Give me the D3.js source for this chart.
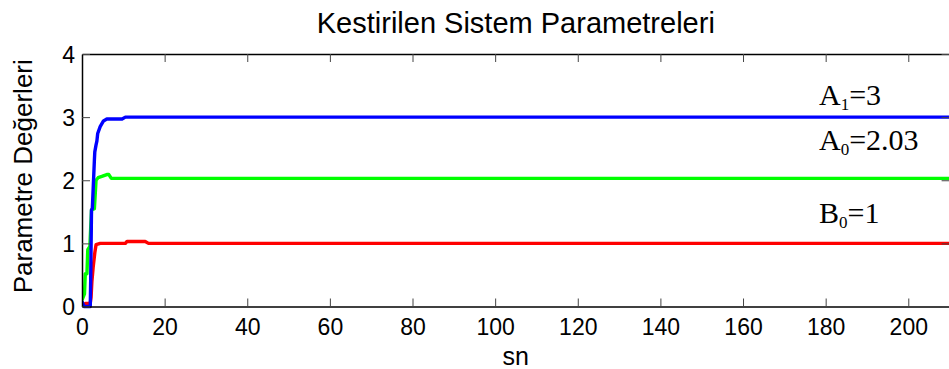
<!DOCTYPE html>
<html>
<head>
<meta charset="utf-8">
<script src="https://cdn.jsdelivr.net/npm/d3@7"></script>
<style>
  html, body { margin: 0; padding: 0; background: #fff; }
  svg { display: block; }
</style>
</head>
<body>
<svg id="chart" width="949" height="369"></svg>
<script>
// Estimated system parameters over time (seconds)
const titleText = "Kestirilen Sistem Parametreleri";
const xLabel = "sn";
const yLabel = "Parametre Değerleri";

const xTicks = [0, 20, 40, 60, 80, 100, 120, 140, 160, 180, 200];
const yTicks = [0, 1, 2, 3, 4];

// A1 estimate (blue)
const a1Time  = [0, 0.5, 2.0, 2.1, 2.3, 2.5, 3.0, 3.1, 3.4, 3.6, 3.8, 4.4, 5.2, 6.0, 9.7, 10.5, 210];
const a1Value = [0.08, 0.0, 0.0, 0.4, 1.53, 1.55, 2.32, 2.45, 2.56, 2.62, 2.74, 2.85, 2.94, 2.97, 2.97, 3.0, 3.0];

// A0 estimate (green)
const a0Time  = [0, 0.6, 0.8, 1.2, 1.4, 1.9, 2.3, 3.0, 3.4, 3.9, 4.8, 6.0, 6.5, 7.1, 210];
const a0Value = [0.1, 0.2, 0.52, 0.52, 0.9, 0.95, 1.53, 1.55, 2.0, 2.04, 2.06, 2.09, 2.09, 2.03, 2.03];

// B0 estimate (red)
const b0Time  = [0, 1.0, 2.0, 2.2, 2.4, 2.7, 3.1, 3.4, 4.4, 10.5, 10.9, 15.3, 16.1, 210];
const b0Value = [0.02, 0.05, 0.05, 0.15, 0.4, 0.62, 0.85, 0.98, 1.0, 1.0, 1.03, 1.03, 1.0, 1.0];

const seriesNames  = ["B0", "A0", "A1"];
const seriesColors = ["#ff0000", "#00ff00", "#0000ff"];
const seriesTimes  = [b0Time, a0Time, a1Time];
const seriesValues = [b0Value, a0Value, a1Value];

// Annotation labels: letter, subscript, stated value
const labelLetters = ["A", "A", "B"];
const labelSubs    = ["1", "0", "0"];
const labelValues  = ["3", "2.03", "1"];
const labelAnchors = [3.0, 2.03, 1.0];

const svg = d3.select("#chart");
const plotLeft = 82, plotRight = 949.6, plotTop = 54, plotBottom = 306.5;

const x = d3.scaleLinear().domain([0, 210]).range([plotLeft, plotRight]);
const y = d3.scaleLinear().domain([0, 4]).range([plotBottom, plotTop]);

svg.append("defs").append("clipPath").attr("id", "plotClip")
  .append("rect").attr("x", plotLeft).attr("y", plotTop - 3)
  .attr("width", plotRight - plotLeft).attr("height", plotBottom - plotTop + 6);

// Data lines
const line = d3.line().x(d => x(d[0])).y(d => y(d[1]));
const plot = svg.append("g").attr("clip-path", "url(#plotClip)");
seriesNames.forEach((name, i) => {
  const pts = seriesTimes[i].map((t, j) => [t, seriesValues[i][j]]);
  plot.append("path")
    .datum(pts)
    .attr("d", line)
    .attr("fill", "none")
    .attr("stroke", seriesColors[i])
    .attr("stroke-width", 3.4)
    .attr("stroke-linejoin", "round");
});

// Axes: ticks point inward
const fontSans = "'Liberation Sans', Arial, sans-serif";
const tickLen = 8;

const xAxis = svg.append("g").attr("transform", `translate(0,${plotBottom})`)
  .call(d3.axisBottom(x).tickValues(xTicks).tickFormat(d3.format("d"))
    .tickSizeInner(-tickLen).tickSizeOuter(0).tickPadding(12));
const xAxisTop = svg.append("g").attr("transform", `translate(0,${plotTop})`)
  .call(d3.axisTop(x).tickValues(xTicks).tickSizeInner(-tickLen).tickSizeOuter(0).tickFormat(""));
const yAxis = svg.append("g").attr("transform", `translate(${plotLeft},0)`)
  .call(d3.axisLeft(y).tickValues(yTicks).tickFormat(d3.format("d"))
    .tickSizeInner(-tickLen).tickSizeOuter(0).tickPadding(7));
const yAxisRight = svg.append("g").attr("transform", `translate(${plotRight},0)`)
  .call(d3.axisRight(y).tickValues(yTicks).tickSizeInner(-tickLen).tickSizeOuter(0).tickFormat(""));

[xAxis, xAxisTop, yAxis, yAxisRight].forEach(g => {
  g.select(".domain").attr("stroke", "#000").attr("stroke-width", 1.5);
  g.selectAll(".tick line").attr("stroke", "#444").attr("stroke-width", 1);
  g.selectAll(".tick text").attr("fill", "#000")
    .style("font-family", fontSans).style("font-size", "23px");
});
xAxis.selectAll(".tick text").attr("dy", "0.71em");
yAxis.selectAll(".tick text").attr("dy", "0.36em");

// Title and axis labels
svg.append("text")
  .attr("x", (plotLeft + plotRight) / 2).attr("y", 33)
  .attr("text-anchor", "middle")
  .style("font-family", fontSans).style("font-size", "29px")
  .text(titleText);

svg.append("text")
  .attr("x", (plotLeft + plotRight) / 2).attr("y", 365)
  .attr("text-anchor", "middle")
  .style("font-family", fontSans).style("font-size", "25px")
  .text(xLabel);

svg.append("text")
  .attr("transform", `translate(32,${(plotTop + plotBottom) / 2 - 4}) rotate(-90)`)
  .attr("text-anchor", "middle")
  .style("font-family", fontSans).style("font-size", "26px")
  .text(yLabel);

// Parameter annotations above each curve
const labelOffsets = [-12, -28, -20];
labelLetters.forEach((letter, i) => {
  const t = svg.append("text")
    .attr("x", 819)
    .attr("y", y(labelAnchors[i]) + labelOffsets[i])
    .style("font-family", "'Liberation Serif', 'Times New Roman', serif")
    .style("font-size", "30px")
    .attr("fill", "#000");
  t.append("tspan").text(letter);
  t.append("tspan").attr("dy", 5).style("font-size", "17px").text(labelSubs[i]);
  t.append("tspan").attr("dy", -5).text("=" + labelValues[i]);
});
</script>
</body>
</html>
